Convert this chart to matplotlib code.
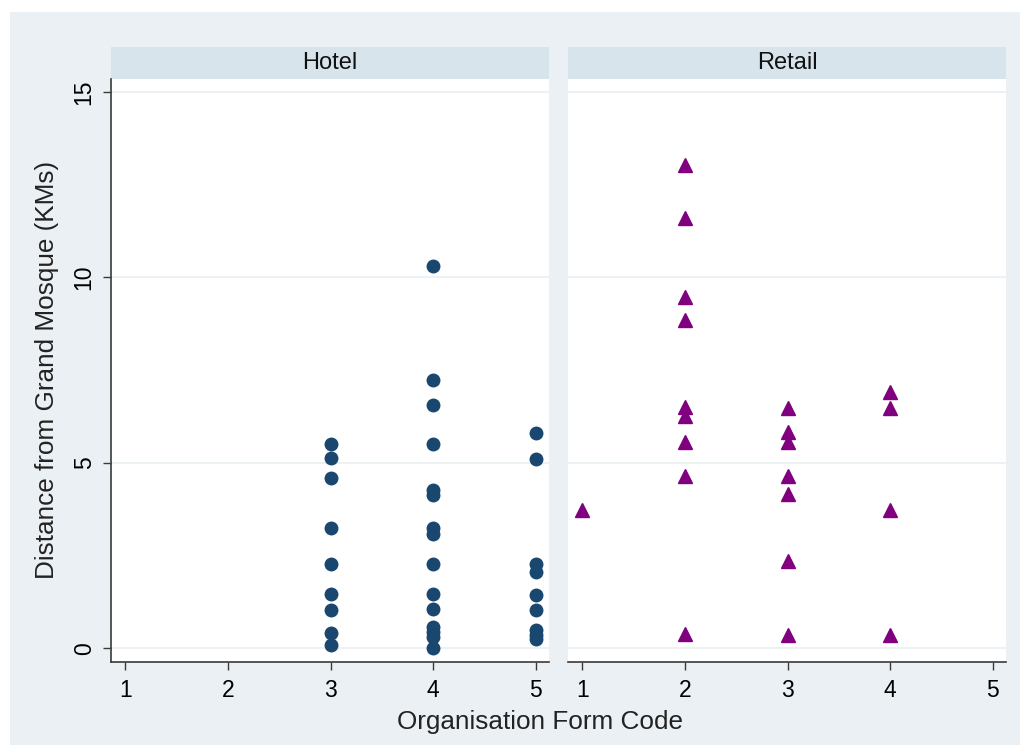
import matplotlib
matplotlib.use('Agg')
import matplotlib.pyplot as plt
from matplotlib.patches import Rectangle

# distance (km) by organisation form code, per sector
hotel_x = [3, 3, 3, 3, 3, 3, 3, 3, 3,
           4, 4, 4, 4, 4, 4, 4, 4, 4, 4, 4, 4, 4, 4, 4,
           5, 5, 5, 5, 5, 5, 5, 5, 5]
hotel_y = [5.52, 5.12, 4.58, 3.23, 2.27, 1.46, 1.03, 0.40, 0.08,
           10.31, 7.23, 6.56, 5.52, 4.28, 4.13, 3.23, 3.08, 2.28, 1.46, 1.05, 0.57, 0.44, 0.30, 0.0,
           5.80, 5.10, 2.28, 2.06, 1.44, 1.03, 0.50, 0.37, 0.25]

retail_x = [1,
            2, 2, 2, 2, 2, 2, 2, 2, 2,
            3, 3, 3, 3, 3, 3, 3,
            4, 4, 4, 4]
retail_y = [3.72,
            13.03, 11.59, 9.48, 8.85, 6.51, 6.25, 5.57, 4.65, 0.38,
            6.49, 5.83, 5.57, 4.64, 4.15, 2.36, 0.37,
            6.91, 6.49, 3.72, 0.37]

panels = ['Hotel', 'Retail']
xticks = [1, 2, 3, 4, 5]
yticks = [0, 5, 10, 15]

bg = '#eaf0f3'
strip = '#d8e4eb'
grid_c = '#e9eff2'
axis_c = '#3a3a3a'
font = ['Liberation Sans', 'DejaVu Sans']
plt.rcParams['font.family'] = font

W, H = 1027, 756
fig = plt.figure(figsize=(W / 100, H / 100), dpi=100, facecolor='white')
fig.patches.append(Rectangle((10 / W, 1 - 745 / H), 1010 / W, 733 / H,
                             transform=fig.transFigure, facecolor=bg,
                             edgecolor='none', zorder=-10))

lefts = [111, 568]
pw = 438
top, bottom = 79, 662
data = [(hotel_x, hotel_y, 'o', '#1a476f', 9),
        (retail_x, retail_y, '^', '#800080', 10)]

for i, (name, (xs, ys, mk, col, ms)) in enumerate(zip(panels, data)):
    l = lefts[i]
    ax = fig.add_axes([l / W, 1 - bottom / H, pw / W, (bottom - top) / H])
    ax.set_facecolor('white')
    ax.plot(xs, ys, linestyle='none', marker=mk, markersize=ms,
            color=col, markeredgecolor=col, zorder=3, clip_on=False)
    ax.set_xlim(0.86, 5.13)
    ax.set_ylim(-0.37, 15.35)
    for yv in yticks:
        ax.axhline(yv, color=grid_c, lw=1.2, zorder=1)
    ax.set_xticks(xticks)
    ax.set_xticklabels([str(v) for v in xticks], fontsize=16.5)
    ax.tick_params(axis='x', direction='out', length=6, width=1,
                   color=axis_c, pad=6)
    for s in ['top', 'right']:
        ax.spines[s].set_visible(False)
    ax.spines['bottom'].set_color(axis_c)
    ax.spines['bottom'].set_linewidth(1.2)
    if i == 0:
        ax.set_yticks(yticks)
        ax.set_yticklabels([str(v) for v in yticks], fontsize=16.5,
                           rotation=90, va='center')
        ax.tick_params(axis='y', direction='out', length=6, width=1,
                       color=axis_c, pad=5)
        ax.spines['left'].set_color(axis_c)
        ax.spines['left'].set_linewidth(1.2)
    else:
        ax.set_yticks([])
        ax.spines['left'].set_visible(False)

    # panel header strip
    fig.patches.append(Rectangle((l / W, 1 - top / H), pw / W, 32 / H,
                                 transform=fig.transFigure, facecolor=strip,
                                 edgecolor='none', zorder=-5))
    fig.text((l + pw / 2) / W, 1 - 63 / H, name, ha='center', va='center',
             fontsize=17, color='#111111')

fig.text(47 / W, 1 - 370 / H, 'Distance from Grand Mosque (KMs)', rotation=90,
         ha='center', va='center', fontsize=18.8, color='#222222')
fig.text(540 / W, 1 - 722 / H, 'Organisation Form Code', ha='center',
         va='center', fontsize=18.8, color='#222222')

fig.savefig('out.png', dpi=100, facecolor='white')
